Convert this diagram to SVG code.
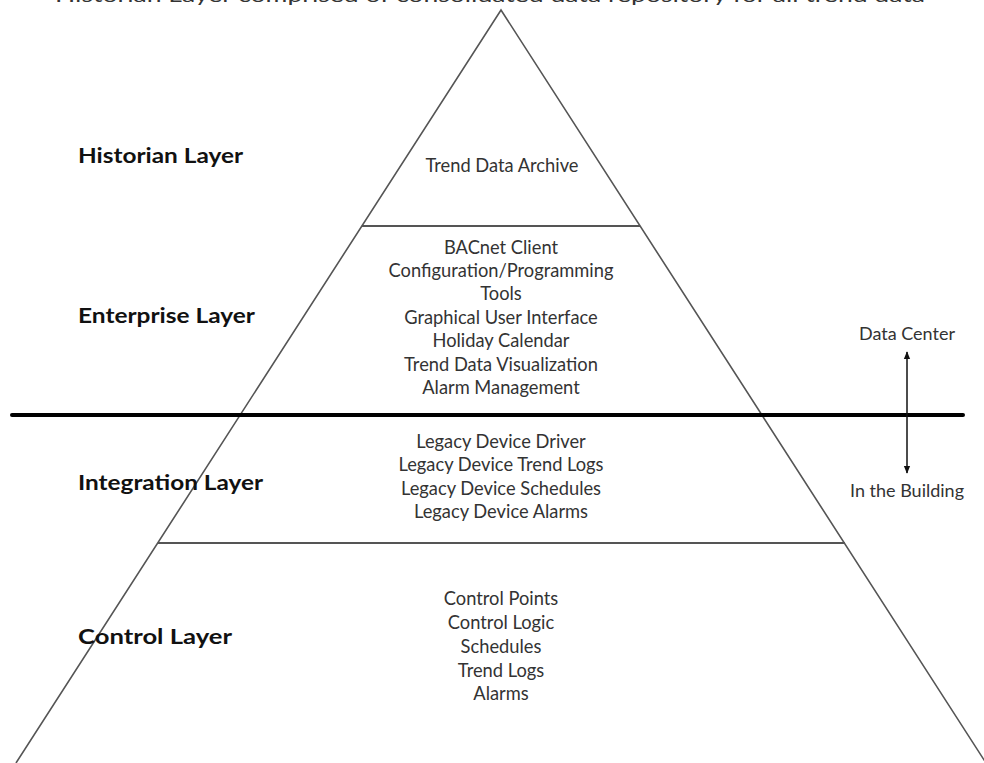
<svg xmlns="http://www.w3.org/2000/svg" width="984" height="763" viewBox="0 0 984 763">
<style>
.side{stroke:#555;stroke-width:1.6;fill:none}
.layer{stroke:#555;stroke-width:2;fill:none}
.lbl{font-family:Lato,"Liberation Sans",sans-serif;font-weight:bold;font-size:21px;fill:#111}
.item{font-family:Lato,"Liberation Sans",sans-serif;font-size:18.3px;fill:#333;text-anchor:middle}
.side-lbl{font-family:Lato,"Liberation Sans",sans-serif;font-size:18px;fill:#333;text-anchor:middle}
</style>
<defs>
<marker id="ah" viewBox="0 0 10 10" refX="9" refY="5" markerWidth="8" markerHeight="8" orient="auto-start-reverse" markerUnits="userSpaceOnUse">
<path d="M0,1 L10,5 L0,9 z" fill="#111"/>
</marker>
</defs>
<rect width="984" height="763" fill="#fff"/>
<text x="55" y="2" font-family="Lato,'Liberation Sans',sans-serif" font-size="20" fill="#333" textLength="870" lengthAdjust="spacingAndGlyphs">Historian Layer comprised of consolidated data repository for all trend data</text>
<g id="pyramid">
<path class="side" d="M16,763 L501,10 L986,763"/>
</g>
<g id="historian">
<line class="layer" x1="362" y1="226" x2="640" y2="226"/>
<text class="lbl" x="78" y="163" textLength="165" lengthAdjust="spacingAndGlyphs">Historian Layer</text>
<text class="item" x="502" y="172">Trend Data Archive</text>
</g>
<g id="enterprise">
<text class="lbl" x="78" y="323" textLength="177" lengthAdjust="spacingAndGlyphs">Enterprise Layer</text>
<text class="item" x="501" y="254">BACnet Client</text>
<text class="item" x="501" y="277">Configuration/Programming</text>
<text class="item" x="501" y="300">Tools</text>
<text class="item" x="501" y="324">Graphical User Interface</text>
<text class="item" x="501" y="347">Holiday Calendar</text>
<text class="item" x="501" y="371">Trend Data Visualization</text>
<text class="item" x="501" y="394">Alarm Management</text>
</g>
<g id="integration">
<line class="layer" x1="158" y1="543" x2="845" y2="543"/>
<text class="lbl" x="78" y="490" textLength="185" lengthAdjust="spacingAndGlyphs">Integration Layer</text>
<text class="item" x="501" y="448">Legacy Device Driver</text>
<text class="item" x="501" y="471">Legacy Device Trend Logs</text>
<text class="item" x="501" y="495">Legacy Device Schedules</text>
<text class="item" x="501" y="518">Legacy Device Alarms</text>
</g>
<g id="control">
<text class="lbl" x="78" y="644" textLength="154" lengthAdjust="spacingAndGlyphs">Control Layer</text>
<text class="item" x="501" y="605">Control Points</text>
<text class="item" x="501" y="629">Control Logic</text>
<text class="item" x="501" y="653">Schedules</text>
<text class="item" x="501" y="677">Trend Logs</text>
<text class="item" x="501" y="700">Alarms</text>
</g>
<g id="divider">
<line x1="12" y1="415" x2="963" y2="415" stroke="#000" stroke-width="4" stroke-linecap="round"/>
<text class="side-lbl" x="907" y="340">Data Center</text>
<text class="side-lbl" x="907" y="497">In the Building</text>
</g>
<g id="connectors">
<line x1="907" y1="352" x2="907" y2="473" stroke="#111" stroke-width="1.5" marker-start="url(#ah)" marker-end="url(#ah)"/>
</g>
</svg>
